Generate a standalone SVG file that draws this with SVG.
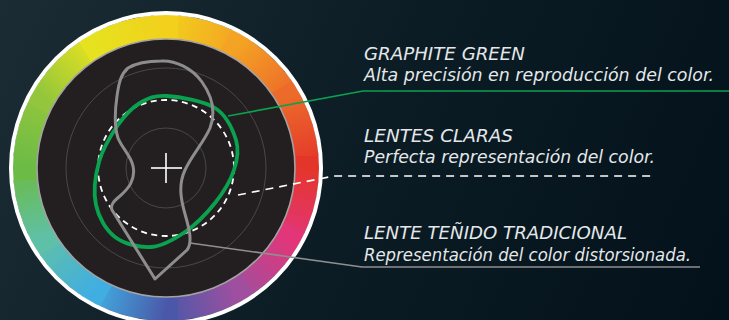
<svg xmlns="http://www.w3.org/2000/svg" width="729" height="320" viewBox="0 0 729 320">
<defs>
<linearGradient id="bg" x1="0" y1="0" x2="729" y2="320" gradientUnits="userSpaceOnUse">
<stop offset="0" stop-color="#1b2c35"/><stop offset="0.5" stop-color="#0c1c25"/><stop offset="1" stop-color="#02111a"/>
</linearGradient>
<linearGradient id="g0" gradientUnits="userSpaceOnUse" x1="166" y1="27" x2="236.5" y2="45.9"><stop offset="0" stop-color="#f2d01c"/><stop offset="1" stop-color="#f4a324"/></linearGradient>
<linearGradient id="g1" gradientUnits="userSpaceOnUse" x1="236.5" y1="45.9" x2="288.1" y2="97.5"><stop offset="0" stop-color="#f4a324"/><stop offset="1" stop-color="#ec6a2a"/></linearGradient>
<linearGradient id="g2" gradientUnits="userSpaceOnUse" x1="288.1" y1="97.5" x2="307" y2="168"><stop offset="0" stop-color="#ec6a2a"/><stop offset="1" stop-color="#e4352b"/></linearGradient>
<linearGradient id="g3" gradientUnits="userSpaceOnUse" x1="307" y1="168" x2="288.1" y2="238.5"><stop offset="0" stop-color="#e4352b"/><stop offset="1" stop-color="#e23679"/></linearGradient>
<linearGradient id="g4" gradientUnits="userSpaceOnUse" x1="288.1" y1="238.5" x2="236.5" y2="290.1"><stop offset="0" stop-color="#e23679"/><stop offset="1" stop-color="#a04f9f"/></linearGradient>
<linearGradient id="g5" gradientUnits="userSpaceOnUse" x1="236.5" y1="290.1" x2="166" y2="309"><stop offset="0" stop-color="#a04f9f"/><stop offset="1" stop-color="#4b58a9"/></linearGradient>
<linearGradient id="g6" gradientUnits="userSpaceOnUse" x1="166" y1="309" x2="95.5" y2="290.1"><stop offset="0" stop-color="#4b58a9"/><stop offset="1" stop-color="#40aee2"/></linearGradient>
<linearGradient id="g7" gradientUnits="userSpaceOnUse" x1="95.5" y1="290.1" x2="43.9" y2="238.5"><stop offset="0" stop-color="#40aee2"/><stop offset="1" stop-color="#5fc0a8"/></linearGradient>
<linearGradient id="g8" gradientUnits="userSpaceOnUse" x1="43.9" y1="238.5" x2="25" y2="168"><stop offset="0" stop-color="#5fc0a8"/><stop offset="1" stop-color="#6bbb46"/></linearGradient>
<linearGradient id="g9" gradientUnits="userSpaceOnUse" x1="25" y1="168" x2="43.9" y2="97.5"><stop offset="0" stop-color="#6bbb46"/><stop offset="1" stop-color="#93c63c"/></linearGradient>
<linearGradient id="g10" gradientUnits="userSpaceOnUse" x1="43.9" y1="97.5" x2="95.5" y2="45.9"><stop offset="0" stop-color="#93c63c"/><stop offset="1" stop-color="#e6e21f"/></linearGradient>
<linearGradient id="g11" gradientUnits="userSpaceOnUse" x1="95.5" y1="45.9" x2="166" y2="27"><stop offset="0" stop-color="#e6e21f"/><stop offset="1" stop-color="#f2d01c"/></linearGradient>
</defs>
<style>
.arc{fill:none;stroke-width:24;stroke-linecap:square}
.grid{fill:none;stroke:#4a4748;stroke-width:1}
.lbl{font-family:"DejaVu Sans","Liberation Sans",sans-serif;font-style:italic;font-size:17px;fill:#e4e8ea}
.lead{fill:none;stroke-width:1.6}
</style>
<rect width="729" height="320" fill="url(#bg)"/>
<g id="wheel">
<path class="arc" stroke="url(#g0)" d="M166 27 A141 141 0 0 1 236.5 45.9"/>
<path class="arc" stroke="url(#g1)" d="M236.5 45.9 A141 141 0 0 1 288.1 97.5"/>
<path class="arc" stroke="url(#g2)" d="M288.1 97.5 A141 141 0 0 1 307 168"/>
<path class="arc" stroke="url(#g3)" d="M307 168 A141 141 0 0 1 288.1 238.5"/>
<path class="arc" stroke="url(#g4)" d="M288.1 238.5 A141 141 0 0 1 236.5 290.1"/>
<path class="arc" stroke="url(#g5)" d="M236.5 290.1 A141 141 0 0 1 166 309"/>
<path class="arc" stroke="url(#g6)" d="M166 309 A141 141 0 0 1 95.5 290.1"/>
<path class="arc" stroke="url(#g7)" d="M95.5 290.1 A141 141 0 0 1 43.9 238.5"/>
<path class="arc" stroke="url(#g8)" d="M43.9 238.5 A141 141 0 0 1 25 168"/>
<path class="arc" stroke="url(#g9)" d="M25 168 A141 141 0 0 1 43.9 97.5"/>
<path class="arc" stroke="url(#g10)" d="M43.9 97.5 A141 141 0 0 1 95.5 45.9"/>
<path class="arc" stroke="url(#g11)" d="M95.5 45.9 A141 141 0 0 1 166 27"/>
<circle cx="166" cy="168" r="155" fill="none" stroke="#ffffff" stroke-width="4"/>
<circle cx="166" cy="168" r="129" fill="#231f20" stroke="#a3a3a3" stroke-width="1.6"/>
<circle class="grid" cx="166" cy="168" r="100"/>
<circle class="grid" cx="166" cy="168" r="40"/>
</g>
<g id="connectors">
<polyline class="lead" stroke="#0aa14f" points="228,116 363,91 729,91"/>
<polyline class="lead" stroke="#ffffff" stroke-dasharray="8 6" points="238,195 334,176 652,176"/>
<polyline class="lead" stroke="#8f8f8f" points="190,243 362,267 700,267"/>
</g>
<g id="lentes-claras">
<circle cx="166" cy="168" r="68" fill="none" stroke="#ffffff" stroke-width="1.8" stroke-dasharray="6 4.5"/>
<text class="lbl" x="364" y="142" textLength="149" lengthAdjust="spacingAndGlyphs">LENTES CLARAS</text>
<text class="lbl" x="364" y="163" textLength="291" lengthAdjust="spacingAndGlyphs">Perfecta representación del color.</text>
</g>
<g id="graphite-green">
<path fill="none" stroke="#0aa14f" stroke-width="3.8" d="M167 96 C179.5 96.8 203.5 100.7 215 108 C226.5 115.3 232.8 129.7 236 140 C239.2 150.3 237.5 159.5 234 170 C230.5 180.5 223.2 192.7 215 203 C206.8 213.3 195.7 224.7 185 232 C174.3 239.3 162.7 246.2 151 247 C139.3 247.8 124.2 244 115 237 C105.8 230 98.7 217.5 96 205 C93.3 192.5 95.3 175.3 99 162 C102.7 148.7 111.2 134.8 118 125 C124.8 115.2 131.8 107.8 140 103 C148.2 98.2 154.5 95.2 167 96 Z"/>
<text class="lbl" x="364" y="60" textLength="161" lengthAdjust="spacingAndGlyphs">GRAPHITE GREEN</text>
<text class="lbl" x="364" y="81" textLength="350" lengthAdjust="spacingAndGlyphs">Alta precisión en reproducción del color.</text>
</g>
<g id="lente-tenido">
<path fill="none" stroke="#8d8d8d" stroke-width="3" stroke-linejoin="round" d="M161 61 C175 60 192 68 202 82 C212 96 216 112 210 128 C204 142 192 155 185 170 C178 185 181 200 185 214 C189 228 193 242 187 250 L155 279 L112 210 C110 205 114 201 120 196 C128 189 136 180 133 166 C131 156 122 148 118 138 C114 126 115 110 117 96 C119 82 121 74 128 68 C138 62 150 61 161 61 Z"/>
<text class="lbl" x="364" y="239" textLength="263" lengthAdjust="spacingAndGlyphs">LENTE TEÑIDO TRADICIONAL</text>
<text class="lbl" x="364" y="261" textLength="327" lengthAdjust="spacingAndGlyphs">Representación del color distorsionada.</text>
</g>
<g id="cross" stroke="#ffffff" stroke-width="1.6">
<line x1="151" y1="168" x2="182" y2="168"/>
<line x1="166" y1="153" x2="166" y2="183"/>
</g>
</svg>
